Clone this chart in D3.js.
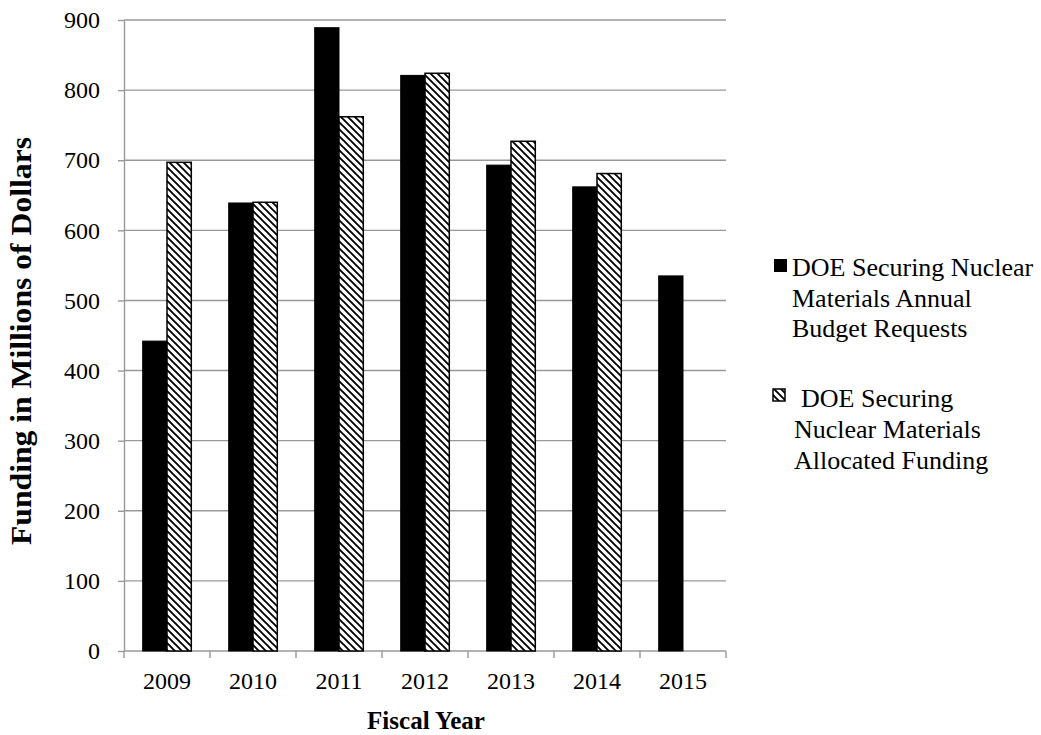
<!DOCTYPE html>
<html>
<head>
<meta charset="utf-8">
<script src="https://cdn.jsdelivr.net/npm/d3@7"></script>
<style>
  html, body { margin: 0; padding: 0; background: #fff; }
  svg { display: block; font-family: "Liberation Serif", "Times New Roman", serif; }
</style>
</head>
<body>
<svg id="chart" width="1041" height="735"></svg>
<script>
// Fiscal years and DOE Securing Nuclear Materials funding (millions of dollars)
const years = ["2009", "2010", "2011", "2012", "2013", "2014", "2015"];
const budgetRequests = [442, 639, 889, 821, 693, 662, 535];
const allocatedFunding = [697, 640, 762, 824, 727, 681, null];
const yTicks = [0, 100, 200, 300, 400, 500, 600, 700, 800, 900];
const seriesKeys = ["req", "alloc"];
const seriesNames = [
  ["DOE Securing Nuclear", "Materials Annual", "Budget Requests"],
  ["DOE Securing", "Nuclear Materials", "Allocated Funding"]
];

const svg = d3.select("#chart");
const plot = { left: 124, right: 726, top: 20, bottom: 651 };
const axisGray = "#999999";

const x = d3.scaleBand().domain(years).range([plot.left, plot.right]).padding(0);
const inner = d3.scaleBand().domain(seriesKeys)
  .range([0, x.bandwidth()]).paddingInner(0).paddingOuter(0.77);
const y = d3.scaleLinear().domain([0, 900]).range([plot.bottom, plot.top]);

// diagonal hatch for allocated funding bars
const defs = svg.append("defs");
const pat = defs.append("pattern")
  .attr("id", "hatch").attr("patternUnits", "userSpaceOnUse")
  .attr("width", 7).attr("height", 7);
pat.append("rect").attr("width", 7).attr("height", 7).attr("fill", "#fff");
pat.append("path")
  .attr("d", "M0,0 L7,7 M-3.5,3.5 L3.5,10.5 M3.5,-3.5 L10.5,3.5")
  .attr("stroke", "#000").attr("stroke-width", 1.9);

// horizontal gridlines
svg.append("g").selectAll("line").data(yTicks.filter(d => d > 0)).join("line")
  .attr("x1", plot.left).attr("x2", plot.right)
  .attr("y1", d => y(d)).attr("y2", d => y(d))
  .attr("stroke", axisGray).attr("stroke-width", 1.4);

// y axis
const yAxis = svg.append("g").attr("transform", `translate(${plot.left},0)`)
  .call(d3.axisLeft(y).tickValues(yTicks).tickSize(6).tickPadding(18).tickSizeOuter(0));
yAxis.attr("font-family", null).attr("font-size", null);
yAxis.select(".domain").attr("stroke", axisGray).attr("stroke-width", 1.4);
yAxis.selectAll(".tick line").attr("stroke", axisGray).attr("stroke-width", 1.4);
yAxis.selectAll(".tick text").attr("font-size", 24).attr("fill", "#000");

// x axis with ticks at category boundaries
const xAxisG = svg.append("g").attr("transform", `translate(0,${plot.bottom})`);
xAxisG.append("line").attr("x1", plot.left).attr("x2", plot.right)
  .attr("stroke", axisGray).attr("stroke-width", 1.4);
const bounds = years.map(d => x(d)).concat([plot.right]);
xAxisG.selectAll(".bound").data(bounds).join("line").attr("class", "bound")
  .attr("x1", d => d).attr("x2", d => d).attr("y1", 0).attr("y2", 7)
  .attr("stroke", axisGray).attr("stroke-width", 1.4);
xAxisG.selectAll(".lbl").data(years).join("text").attr("class", "lbl")
  .attr("x", d => x(d) + x.bandwidth() / 2).attr("y", 38)
  .attr("text-anchor", "middle").attr("font-size", 24).attr("fill", "#000")
  .text(d => d);

// bars
const bars = svg.append("g");
const rows = years.map((yr, i) => ({ yr, req: budgetRequests[i], alloc: allocatedFunding[i] }));
rows.forEach(r => {
  seriesKeys.forEach(k => {
    const v = r[k];
    if (v == null) return;
    bars.append("rect")
      .attr("x", x(r.yr) + inner(k)).attr("width", inner.bandwidth())
      .attr("y", y(v)).attr("height", y(0) - y(v))
      .attr("fill", k === "req" ? "#000" : "url(#hatch)")
      .attr("stroke", "#000").attr("stroke-width", k === "req" ? 1 : 1.5);
  });
});

// axis titles
svg.append("text")
  .attr("x", 426).attr("y", 729).attr("text-anchor", "middle")
  .attr("font-size", 25).attr("font-weight", "bold").attr("fill", "#000")
  .text("Fiscal Year");
svg.append("text")
  .attr("transform", "translate(31,341) rotate(-90)")
  .attr("text-anchor", "middle")
  .attr("font-size", 30).attr("font-weight", "bold").attr("fill", "#000")
  .attr("textLength", 408).attr("lengthAdjust", "spacingAndGlyphs")
  .text("Funding in Millions of Dollars");

// legend
const leg = svg.append("g");
leg.append("rect").attr("x", 774).attr("y", 259).attr("width", 13).attr("height", 13)
  .attr("fill", "#000");
seriesNames[0].forEach((t, i) => {
  leg.append("text").attr("x", 792).attr("y", 276 + i * 30.5)
    .attr("font-size", 26).attr("fill", "#000").text(t);
});
leg.append("rect").attr("x", 773).attr("y", 389).attr("width", 12).attr("height", 12)
  .attr("fill", "url(#hatch)").attr("stroke", "#000").attr("stroke-width", 1.5);
seriesNames[1].forEach((t, i) => {
  leg.append("text").attr("x", i === 0 ? 801 : 794).attr("y", 407 + i * 31)
    .attr("font-size", 26).attr("fill", "#000").text(t);
});
</script>
</body>
</html>
